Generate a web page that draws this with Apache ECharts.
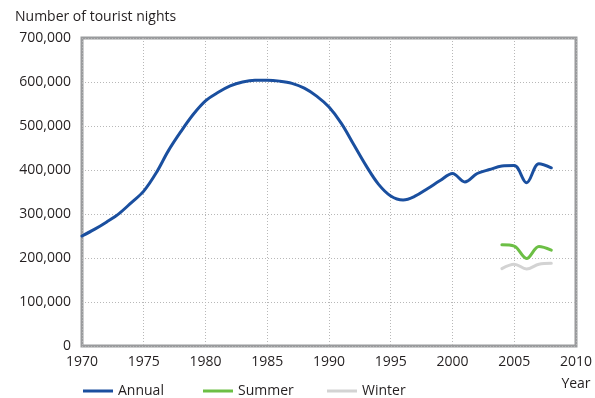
<!DOCTYPE html>
<html>
<head>
<meta charset="utf-8">
<script src="https://cdn.jsdelivr.net/npm/echarts@6/dist/echarts.min.js"></script>
<style>
  html, body { margin: 0; padding: 0; background: #fff; }
  #chart { width: 595px; height: 398px; }
</style>
</head>
<body>
<div id="chart"></div>
<script>
// Tourist nights per year
const annualYears = [1970, 1971, 1972, 1973, 1974, 1975, 1976, 1977, 1978, 1979,
  1980, 1981, 1982, 1983, 1984, 1985, 1986, 1987, 1988, 1989,
  1990, 1991, 1992, 1993, 1994, 1995, 1996, 1997, 1998, 1999,
  2000, 2001, 2002, 2003, 2004, 2005, 2006, 2007, 2008];
const annualValues = [250000, 265000, 282000, 301000, 326000, 352000, 393000, 444000, 487000, 526000,
  557000, 576000, 591000, 600000, 604000, 604000, 602000, 597000, 586000, 568000,
  543000, 506000, 458000, 410000, 368000, 341000, 332000, 341000, 358000, 376000,
  392000, 373000, 392000, 401000, 409000, 410000, 371000, 414000, 405000];

const seasonYears = [2004, 2005, 2006, 2007, 2008];
const summerValues = [230000, 227000, 199000, 226000, 218000];
const winterValues = [176000, 186000, 175000, 186000, 188000];

const xTicks = [1970, 1975, 1980, 1985, 1990, 1995, 2000, 2005, 2010];
const yTicks = [0, 100000, 200000, 300000, 400000, 500000, 600000, 700000];

const FONT = '"Open Sans", "Noto Sans", sans-serif';
const TEXT = '#231f20';

function pairs(xs, ys) { return xs.map((x, i) => [x, ys[i]]); }
function fmt(v) { return v.toLocaleString('en-US'); }

const chart = echarts.init(document.getElementById('chart'), null, { renderer: 'canvas' });

function legendAt(name, left) {
  return {
    data: [name], left: left, top: 384, padding: 0,
    icon: 'rect', itemWidth: 30, itemHeight: 3, itemGap: 5,
    textStyle: { fontFamily: FONT, fontSize: 14, color: TEXT, padding: [0, 0, 0, 0] }
  };
}

chart.setOption({
  animation: false,
  title: {
    text: 'Number of tourist nights', left: 15, top: 10, padding: 0,
    textStyle: { fontFamily: FONT, fontSize: 14, fontWeight: 'normal', color: TEXT }
  },
  legend: [legendAt('Annual', 83), legendAt('Summer', 203), legendAt('Winter', 327)],
  grid: {
    left: 82, right: 16, top: 38, bottom: 52, show: true,
    borderColor: '#9a9b9d', borderWidth: 3, backgroundColor: 'transparent'
  },
  xAxis: {
    type: 'value', min: xTicks[0], max: xTicks[xTicks.length - 1], interval: 5,
    name: 'Year', nameLocation: 'end', nameGap: 0,
    nameTextStyle: { fontFamily: FONT, fontSize: 14, color: TEXT, align: 'center', verticalAlign: 'top', padding: [31, 0, 0, 0] },
    axisLine: { show: false }, axisTick: { show: false },
    axisLabel: { fontFamily: FONT, fontSize: 14, color: TEXT, margin: 9, formatter: v => String(v) },
    splitLine: { show: true, lineStyle: { color: '#b8b8b8', type: [1, 2], width: 1 } }
  },
  yAxis: {
    type: 'value', min: yTicks[0], max: yTicks[yTicks.length - 1], interval: 100000,
    axisLine: { show: false }, axisTick: { show: false },
    axisLabel: { fontFamily: FONT, fontSize: 14, color: TEXT, margin: 11, formatter: v => fmt(v) },
    splitLine: { show: true, lineStyle: { color: '#b8b8b8', type: [1, 2], width: 1 } }
  },
  series: [
    {
      name: 'Annual', type: 'line', data: pairs(annualYears, annualValues),
      smooth: 0.35, showSymbol: false, symbol: 'none',
      lineStyle: { color: '#1a4f9f', width: 3, cap: 'round', join: 'round' },
      itemStyle: { color: '#1a4f9f' }, z: 5
    },
    {
      name: 'Summer', type: 'line', data: pairs(seasonYears, summerValues),
      smooth: 0.35, showSymbol: false, symbol: 'none',
      lineStyle: { color: '#6cbf45', width: 3, cap: 'round', join: 'round' },
      itemStyle: { color: '#6cbf45' }, z: 4
    },
    {
      name: 'Winter', type: 'line', data: pairs(seasonYears, winterValues),
      smooth: 0.35, showSymbol: false, symbol: 'none',
      lineStyle: { color: '#d3d3d3', width: 3, cap: 'round', join: 'round' },
      itemStyle: { color: '#d3d3d3' }, z: 3
    }
  ]
});
</script>
</body>
</html>
